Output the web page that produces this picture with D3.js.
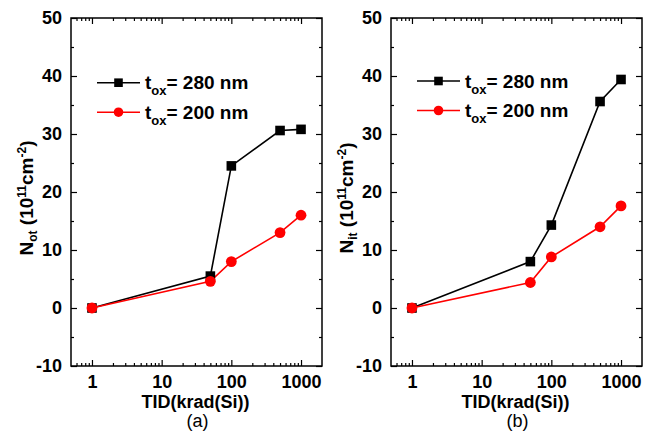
<!DOCTYPE html>
<html>
<head>
<meta charset="utf-8">
<script src="https://cdn.jsdelivr.net/npm/d3@7/dist/d3.min.js"></script>
<style>
  html, body { margin: 0; padding: 0; background: #fff; }
  svg { display: block; font-family: "Liberation Sans", Arial, sans-serif; }
  .domain { display: none; }
</style>
</head>
<body>
<svg id="chart" width="657" height="433"></svg>
<script>
// Dose points (krad(Si)) shared by both panels
const doses = [1, 50, 100, 500, 1000];

// Panel (a): oxide-trapped charge density, 10^11 cm^-2
const notThick = [0, 5.5, 24.5, 30.6, 30.8];   // tox = 280 nm
const notThin  = [0, 4.6, 8.0, 13.0, 16.0];    // tox = 200 nm

// Panel (b): interface-trap density, 10^11 cm^-2
const nitThick = [0, 8.0, 14.3, 35.6, 39.4];   // tox = 280 nm
const nitThin  = [0, 4.4, 8.8, 14.0, 17.6];    // tox = 200 nm

const xTickValues = [1, 10, 100, 1000];
const yTickValues = [-10, 0, 10, 20, 30, 40, 50];
const seriesNames = ["280 nm", "200 nm"];
const panelLetters = ["(a)", "(b)"];
const yLabelSubs = ["ot", "it"];

const svg = d3.select("#chart");

function drawPanel(opt) {
  const { left, right, top, bottom } = opt;
  const x = d3.scaleLog().domain([0.5, 2000]).range([left, right]);
  const y = d3.scaleLinear().domain([-10, 50]).range([bottom, top]);
  const g = svg.append("g");

  // minor tick values
  const xMinor = [];
  for (let d = 0.1; d <= 1000; d *= 10)
    for (let k = 2; k <= 9; k++) {
      const v = d * k;
      if (v > 0.5 && v < 2000) xMinor.push(v);
    }
  const yMinor = d3.range(-5, 50, 10);

  const tickStyle = sel => sel.selectAll(".tick line").attr("stroke", "#000").attr("stroke-width", 1.2);
  const plain = d => String(d);

  // bottom axis with labels (ticks point inward)
  g.append("g").attr("transform", `translate(0,${bottom})`)
    .call(d3.axisBottom(x).tickValues(xTickValues).tickFormat(plain)
      .tickSizeInner(-6).tickSizeOuter(0).tickPadding(9))
    .call(tickStyle)
    .call(s => s.selectAll("text").attr("font-size", 18).attr("font-weight", "bold").attr("fill", "#000"));
  g.append("g").attr("transform", `translate(0,${bottom})`)
    .call(d3.axisBottom(x).tickValues(xMinor).tickFormat("").tickSizeInner(-3).tickSizeOuter(0))
    .call(tickStyle);
  // top mirror
  g.append("g").attr("transform", `translate(0,${top})`)
    .call(d3.axisTop(x).tickValues(xTickValues).tickFormat("").tickSizeInner(-6).tickSizeOuter(0))
    .call(tickStyle);
  g.append("g").attr("transform", `translate(0,${top})`)
    .call(d3.axisTop(x).tickValues(xMinor).tickFormat("").tickSizeInner(-3).tickSizeOuter(0))
    .call(tickStyle);

  // left axis with labels
  g.append("g").attr("transform", `translate(${left},0)`)
    .call(d3.axisLeft(y).tickValues(yTickValues).tickFormat(plain)
      .tickSizeInner(-6).tickSizeOuter(0).tickPadding(9))
    .call(tickStyle)
    .call(s => s.selectAll("text").attr("font-size", 18).attr("font-weight", "bold").attr("fill", "#000"));
  g.append("g").attr("transform", `translate(${left},0)`)
    .call(d3.axisLeft(y).tickValues(yMinor).tickFormat("").tickSizeInner(-3).tickSizeOuter(0))
    .call(tickStyle);
  // right mirror
  g.append("g").attr("transform", `translate(${right},0)`)
    .call(d3.axisRight(y).tickValues(yTickValues).tickFormat("").tickSizeInner(-6).tickSizeOuter(0))
    .call(tickStyle);
  g.append("g").attr("transform", `translate(${right},0)`)
    .call(d3.axisRight(y).tickValues(yMinor).tickFormat("").tickSizeInner(-3).tickSizeOuter(0))
    .call(tickStyle);

  // frame
  g.append("rect").attr("x", left).attr("y", top)
    .attr("width", right - left).attr("height", bottom - top)
    .attr("fill", "none").attr("stroke", "#000").attr("stroke-width", 1.5);

  // data lines and markers
  const line = d3.line().x(d => x(d[0])).y(d => y(d[1]));
  const series = [
    { vals: opt.thick, color: "#000000", shape: "square" },
    { vals: opt.thin,  color: "#ff0000", shape: "circle" }
  ];
  series.forEach(s => {
    const pts = doses.map((d, i) => [d, s.vals[i]]);
    g.append("path").datum(pts).attr("d", line)
      .attr("fill", "none").attr("stroke", s.color).attr("stroke-width", 1.6);
  });
  series.forEach(s => {
    const pts = doses.map((d, i) => [d, s.vals[i]]);
    if (s.shape === "square") {
      g.selectAll(null).data(pts).enter().append("rect")
        .attr("x", d => x(d[0]) - 4.8).attr("y", d => y(d[1]) - 4.8)
        .attr("width", 9.6).attr("height", 9.6).attr("fill", s.color);
    } else {
      g.selectAll(null).data(pts).enter().append("circle")
        .attr("cx", d => x(d[0])).attr("cy", d => y(d[1])).attr("r", 5.4).attr("fill", s.color);
    }
  });

  // legend
  series.forEach((s, i) => {
    const ly = opt.legY + i * 29.5;
    const lx = opt.legX;
    g.append("line").attr("x1", lx).attr("x2", lx + 43).attr("y1", ly).attr("y2", ly)
      .attr("stroke", s.color).attr("stroke-width", 1.6);
    if (s.shape === "square") {
      g.append("rect").attr("x", lx + 21.5 - 4.3).attr("y", ly - 4.3)
        .attr("width", 8.6).attr("height", 8.6).attr("fill", s.color);
    } else {
      g.append("circle").attr("cx", lx + 21.5).attr("cy", ly).attr("r", 4.8).attr("fill", s.color);
    }
    const t = g.append("text").attr("x", lx + 48).attr("y", ly + 6.5)
      .attr("font-size", 19).attr("font-weight", "bold").attr("fill", "#000");
    t.append("tspan").text("t");
    t.append("tspan").attr("font-size", 13).attr("dy", 6).text("ox");
    t.append("tspan").attr("dy", -6).text("= " + seriesNames[i]);
  });

  // x-axis title and panel letter
  const cx = (left + right) / 2;
  g.append("text").attr("x", cx - 1).attr("y", 408).attr("text-anchor", "middle")
    .attr("font-size", 18).attr("font-weight", "bold").text("TID(krad(Si))");
  g.append("text").attr("x", cx + 1).attr("y", 427).attr("text-anchor", "middle")
    .attr("font-size", 18).text(opt.letter);

  // y-axis title
  const yt = g.append("text")
    .attr("transform", `translate(${left - 38},${(top + bottom) / 2 + 6}) rotate(-90)`)
    .attr("text-anchor", "middle").attr("font-size", 19).attr("font-weight", "bold");
  yt.append("tspan").text("N");
  yt.append("tspan").attr("font-size", 12).attr("dy", 4).text(opt.sub);
  yt.append("tspan").attr("dy", -4).text(" (10");
  yt.append("tspan").attr("font-size", 12).attr("dy", -7).text("11");
  yt.append("tspan").attr("dy", 7).text("cm");
  yt.append("tspan").attr("font-size", 12).attr("dy", -7).text("-2");
  yt.append("tspan").attr("dy", 7).text(")");
}

drawPanel({ left: 71, right: 322, top: 18, bottom: 366,
  thick: notThick, thin: notThin, legX: 97, legY: 82.7, letter: panelLetters[0], sub: yLabelSubs[0] });
drawPanel({ left: 391, right: 642, top: 18, bottom: 366,
  thick: nitThick, thin: nitThin, legX: 417, legY: 81, letter: panelLetters[1], sub: yLabelSubs[1] });
</script>
</body>
</html>
